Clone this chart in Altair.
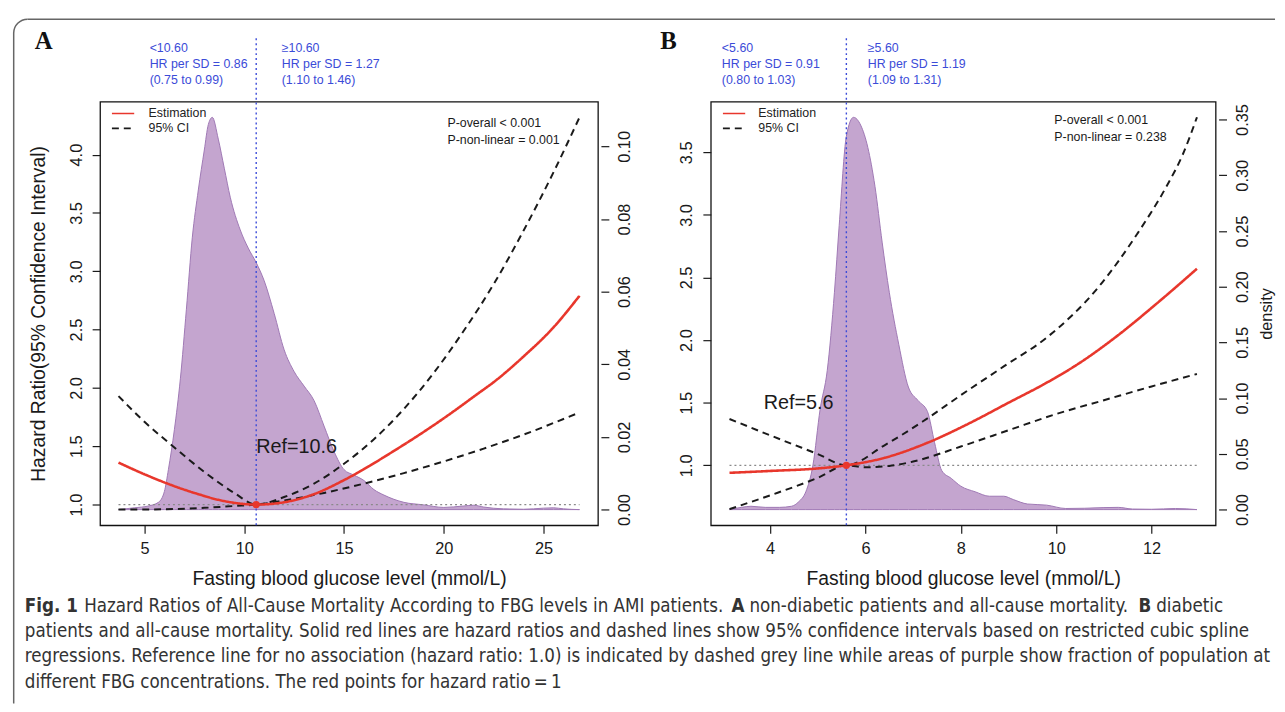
import altair as alt
import pandas as pd

# ---------------- Panel A (non-diabetic) ----------------
a_est_x = [3.7, 5.0, 6.0, 7.5, 9.0, 10.6, 12.0, 13.5, 15.0, 17.5, 20.0, 21.7, 22.5, 24.0, 25.5, 26.8]
a_est_y = [1.36, 1.26, 1.19, 1.10, 1.03, 1.00, 1.02, 1.09, 1.21, 1.46, 1.74, 1.95, 2.05, 2.27, 2.52, 2.79]
a_up_x = [3.7, 5.0, 6.5, 8.0, 9.5, 10.6, 12.0, 13.5, 15.0, 16.5, 18.0, 19.5, 21.0, 22.5, 24.0, 25.5, 26.8]
a_up_y = [1.93, 1.71, 1.49, 1.28, 1.10, 1.00, 1.065, 1.18, 1.35, 1.56, 1.82, 2.13, 2.49, 2.89, 3.35, 3.85, 4.32]
a_lo_x = [3.7, 5.0, 6.5, 8.0, 9.5, 10.6, 12.0, 14.0, 16.0, 18.0, 20.0, 22.0, 24.0, 26.8]
a_lo_y = [0.957, 0.958, 0.962, 0.972, 0.988, 1.00, 1.035, 1.10, 1.18, 1.27, 1.37, 1.48, 1.60, 1.79]
a_den_x = [3.7, 4.5, 5.2, 5.7, 6.0, 6.2, 6.5, 6.8, 7.1, 7.4, 7.7, 8.0, 8.2, 8.4, 8.7, 9.0, 9.3, 9.8,
           10.2, 10.6, 11.0, 11.5, 12.0, 12.5, 13.0, 13.5, 14.0, 14.5, 15.0, 15.5, 16.0, 16.5, 17.0,
           18.0, 19.0, 20.0, 21.0, 21.5, 22.0, 23.0, 24.0, 25.0, 25.5, 26.0, 26.8]
a_den_y = [0.0, 0.0005, 0.001, 0.002, 0.005, 0.011, 0.022, 0.036, 0.055, 0.075, 0.088, 0.099, 0.106,
           0.108, 0.102, 0.094, 0.086, 0.077, 0.072, 0.068, 0.063, 0.054, 0.044, 0.038, 0.034, 0.030,
           0.023, 0.016, 0.011, 0.0095, 0.008, 0.0055, 0.004, 0.002, 0.0013, 0.0006, 0.001, 0.0012,
           0.0007, 0.0002, 0.0001, 0.0004, 0.0005, 0.0002, 0.0]
a_ref = 10.6
a_xticks = [5, 10, 15, 20, 25]
a_hrticks = [1.0, 1.5, 2.0, 2.5, 3.0, 3.5, 4.0]
a_dticks = [0.0, 0.02, 0.04, 0.06, 0.08, 0.10]

# ---------------- Panel B (diabetic) ----------------
b_est_x = [3.15, 4.0, 5.0, 5.6, 6.4, 7.3, 8.2, 9.0, 9.8, 10.5, 11.3, 12.1, 12.95]
b_est_y = [0.94, 0.955, 0.975, 1.0, 1.06, 1.18, 1.34, 1.50, 1.66, 1.82, 2.04, 2.29, 2.57]
b_up_x = [3.15, 4.0, 5.0, 5.6, 6.4, 7.2, 8.0, 8.9, 9.8, 10.9, 11.7, 12.3, 12.65, 12.95]
b_up_y = [1.37, 1.24, 1.09, 1.00, 1.16, 1.35, 1.56, 1.79, 2.02, 2.43, 2.85, 3.22, 3.48, 3.78]
b_lo_x = [3.15, 4.0, 5.0, 5.6, 6.0, 6.5, 7.0, 8.0, 9.0, 10.0, 11.0, 12.0, 12.95]
b_lo_y = [0.65, 0.76, 0.90, 1.00, 0.985, 0.995, 1.03, 1.15, 1.28, 1.41, 1.52, 1.63, 1.73]
b_den_x = [3.15, 3.4, 3.6, 3.9, 4.2, 4.45, 4.6, 4.75, 4.9, 5.05, 5.2, 5.35, 5.45, 5.6, 5.75, 5.9,
           6.05, 6.2, 6.35, 6.5, 6.7, 6.9, 7.1, 7.3, 7.45, 7.6, 7.8, 8.0, 8.3, 8.6, 8.9, 9.1, 9.4,
           9.8, 10.2, 10.6, 11.0, 11.3, 11.6, 12.0, 12.5, 12.95]
b_den_y = [0.0, 0.002, 0.003, 0.002, 0.002, 0.003, 0.007, 0.016, 0.040, 0.090, 0.125, 0.195, 0.255,
           0.335, 0.352, 0.345, 0.325, 0.29, 0.24, 0.195, 0.148, 0.11, 0.098, 0.088, 0.06, 0.035,
           0.028, 0.021, 0.016, 0.012, 0.012, 0.009, 0.005, 0.004, 0.001, 0.0012, 0.0018, 0.002,
           0.0005, 0.0003, 0.001, 0.0]
b_ref = 5.6
b_xticks = [4, 6, 8, 10, 12]
b_hrticks = [1.0, 1.5, 2.0, 2.5, 3.0, 3.5]
b_dticks = [0.0, 0.05, 0.10, 0.15, 0.20, 0.25, 0.30, 0.35]

series_names = ["Estimation", "95% CI"]
x_title = "Fasting blood glucose level (mmol/L)"
hr_title = "Hazard Ratio(95% Confidence Interval)"

cap_bold_text = ["Fig. 1", "A", "B"]
cap_reg_text = [
    "Hazard Ratios of All-Cause Mortality According to FBG levels in AMI patients.",
    "non-diabetic patients and all-cause mortality.",
    "diabetic",
    "patients and all-cause mortality. Solid red lines are hazard ratios and dashed lines show 95% confidence intervals based on restricted cubic spline",
    "regressions. Reference line for no association (hazard ratio: 1.0) is indicated by dashed grey line while areas of purple show fraction of population at",
    "different FBG concentrations. The red points for hazard ratio\u2009=\u20091",
]

FONT = "Liberation Sans"
SERIF = "Liberation Serif"
CAPFONT = "DejaVu Sans Condensed, Liberation Sans Narrow, Liberation Sans"
RED = "#E8372C"
INK = "#1a1a1a"
BLUE = "#3B4BD8"
PURPLE = "#C4A5CF"
PURPLE_EDGE = "#9F78B4"
FRAME = "#666666"
H = 428


def one(**kw):
    return pd.DataFrame([kw])


def panel(P):
    W = P["w"]
    xs = alt.Scale(domain=P["xdom"], nice=False, zero=False)
    hs = alt.Scale(domain=P["hrdom"], nice=False, zero=False)
    ds = alt.Scale(domain=P["ddom"], nice=False, zero=False)
    x_axis = alt.Axis(values=P["xticks"], title=x_title, grid=False, domain=False,
                      tickSize=8, tickWidth=1.2, tickColor=INK, labelFont=FONT,
                      labelFontSize=16.5, labelColor=INK, labelPadding=8,
                      titleFont=FONT, titleFontSize=19.5, titleFontWeight="normal",
                      titleColor=INK, titlePadding=12)
    hr_axis = alt.Axis(values=P["hrticks"], format=".1f", orient="left",
                       title=P["hr_title"] if P["hr_title"] else None,
                       grid=False, domain=False, tickSize=8, tickWidth=1.2, tickColor=INK,
                       labelFont=FONT, labelFontSize=16.5, labelColor=INK, labelAngle=270,
                       labelAlign="center", labelBaseline="bottom", labelPadding=8,
                       titleFont=FONT, titleFontSize=19.5, titleFontWeight="normal",
                       titleColor=INK, titlePadding=20)
    d_axis = alt.Axis(values=P["dticks"], format=".2f", orient="right",
                      title=P["d_title"] if P["d_title"] else None,
                      grid=False, domain=False, offset=3, tickSize=8, tickWidth=1.2,
                      tickColor=INK, labelFont=FONT, labelFontSize=16.5, labelColor=INK,
                      labelAngle=270, labelAlign="center", labelBaseline="top",
                      labelPadding=8, titleFont=FONT, titleFontSize=16.5,
                      titleFontWeight="normal", titleColor=INK, titleAngle=270,
                      titleBaseline="top", titlePadding=8)

    X = alt.X("x:Q", scale=xs, axis=x_axis)
    YH = alt.Y("hr:Q", scale=hs, axis=hr_axis)

    den = pd.DataFrame({"x": P["den_x"], "d": P["den_y"]})
    dens = alt.Chart(den).mark_area(color=PURPLE, stroke=PURPLE_EDGE, strokeWidth=1,
                                    interpolate="monotone").encode(
        x=X, y=alt.Y("d:Q", scale=ds, axis=d_axis), y2=alt.datum(0))

    ci = pd.concat([
        pd.DataFrame({"x": P["up_x"], "hr": P["up_y"], "series": "95% CI", "part": "upper"}),
        pd.DataFrame({"x": P["lo_x"], "hr": P["lo_y"], "series": "95% CI", "part": "lower"}),
    ])
    est = pd.DataFrame({"x": P["est_x"], "hr": P["est_y"], "series": "Estimation", "part": "est"})

    leg = alt.Legend(title=None, orient="none", legendX=P["leg_x"], legendY=3.5,
                     symbolType="M-1.5,0H1.5", labelFont=FONT,
                     labelFontSize=12.5, labelColor="#222", symbolSize=225,
                     symbolStrokeWidth=1.6, rowPadding=0, padding=0,
                     labelOffset=P["leg_lab"])
    col = alt.Color("series:N", scale=alt.Scale(domain=series_names, range=[RED, INK]), legend=leg)
    dash = alt.StrokeDash("series:N", scale=alt.Scale(domain=series_names, range=[[1, 0], [7, 5]]),
                          legend=leg)

    hline = alt.Chart(one(x=P["est_x"][0], x2=P["est_x"][-1], hr=1.0)).mark_rule(
        color="#8a8a8a", strokeDash=[2, 3], strokeWidth=1.3).encode(x=X, x2="x2:Q", y=YH)
    ci_l = alt.Chart(ci).mark_line(strokeWidth=2, interpolate="monotone").encode(
        x=X, y=YH, color=col, strokeDash=dash, detail="part:N")
    est_l = alt.Chart(est).mark_line(strokeWidth=2.6, interpolate="monotone").encode(
        x=X, y=YH, color=col, strokeDash=dash)
    vrule = alt.Chart(one(x=P["ref"])).mark_rule(color=BLUE, strokeDash=[2, 3],
                                                  strokeWidth=1.4).encode(
        x=X, y=alt.value(-64), y2=alt.value(H))
    pt = alt.Chart(one(x=P["ref"], hr=1.0)).mark_point(filled=True, color=RED, size=55,
                                                       opacity=1).encode(x=X, y=YH)
    reft = alt.Chart(one(x=P["ref_tx"], hr=P["ref_ty"], t=P["ref_text"])).mark_text(
        font=FONT, fontSize=20, color=INK, align=P["ref_align"], baseline="middle").encode(
        x=X, y=YH, text="t:N")
    pv = alt.Chart(pd.DataFrame({"x": [P["p_x"]] * 2, "hr": P["p_y"], "t": P["p_text"]})).mark_text(
        font=FONT, fontSize=12.5, color=INK, align="left", baseline="middle").encode(
        x=X, y=YH, text="t:N")
    blue_l = alt.Chart(one(x=P["bl_x"], t=P["bl_text"])).mark_text(
        font=FONT, fontSize=12.5, color=BLUE, align="left", baseline="top", lineBreak="\n",
        lineHeight=16).encode(x=X, y=alt.value(-60), text="t:N")
    blue_r = alt.Chart(one(x=P["br_x"], t=P["br_text"])).mark_text(
        font=FONT, fontSize=12.5, color=BLUE, align="left", baseline="top", lineBreak="\n",
        lineHeight=16).encode(x=X, y=alt.value(-60), text="t:N")
    letter = alt.Chart(one(t=P["letter"])).mark_text(
        font=SERIF, fontSize=25, fontWeight="bold", color="#111", align="left",
        baseline="alphabetic").encode(x=alt.value(P["letter_dx"]), y=alt.value(-53), text="t:N")

    layers = [hline, ci_l, est_l, vrule, pt, reft, pv, blue_l, blue_r, letter]

    if P.get("caption"):
        # outer figure frame: top edge, left edge and a rounded top-left corner
        top_edge = alt.Chart(one(a=0)).mark_rule(color=FRAME, strokeWidth=1.5).encode(
            x=alt.value(-73.25), x2=alt.value(1187), y=alt.value(-83.25))
        left_edge = alt.Chart(one(a=0)).mark_rule(color=FRAME, strokeWidth=1.5).encode(
            x=alt.value(-87.25), y=alt.value(-69.25), y2=alt.value(608))
        corner = alt.Chart(one(a=0)).mark_arc(radius=14, radius2=14, stroke=FRAME,
                                              strokeWidth=1.5, fillOpacity=0).encode(
            theta=alt.value(4.712389), theta2=alt.value(6.283185),
            x=alt.value(-73.25), y=alt.value(-69.25))
        cap_bold = pd.DataFrame({"t": cap_bold_text, "px": [-76, 638, 1049]})
        cb = alt.Chart(cap_bold).mark_text(font=CAPFONT, fontSize=18.8, fontWeight="bold",
                                           color="#333", align="left", baseline="middle").encode(
            x=alt.X("px:Q", scale=None), y=alt.value(510), text="t:N")
        cap_reg = pd.DataFrame({
            "t": cap_reg_text,
            "px": [-16, 656, 1067, -76, -76, -76],
            "py": [510, 510, 510, 535, 560, 586]})
        cr = alt.Chart(cap_reg).mark_text(font=CAPFONT, fontSize=18.8, color="#333",
                                          align="left", baseline="middle").encode(
            x=alt.X("px:Q", scale=None), y=alt.Y("py:Q", scale=None), text="t:N")
        layers = [top_edge, left_edge, corner] + layers + [cb, cr]

    inner = alt.layer(*layers)
    return alt.layer(dens, inner).resolve_scale(y="independent").properties(width=W, height=H)


PA = dict(w=503, est_x=a_est_x, est_y=a_est_y, up_x=a_up_x, up_y=a_up_y, lo_x=a_lo_x, lo_y=a_lo_y,
          den_x=a_den_x, den_y=a_den_y, ref=a_ref, xdom=[2.776, 27.724], hrdom=[0.8225, 4.4545],
          ddom=[-0.00432, 0.11232], xticks=a_xticks, hrticks=a_hrticks, dticks=a_dticks,
          hr_title=hr_title, d_title=None, ref_tx=10.6, ref_ty=1.49, ref_text="Ref=10.6",
          ref_align="left", p_x=20.18, p_y=[4.268, 4.124],
          p_text=["P-overall < 0.001", "P-non-linear = 0.001"],
          bl_x=5.26, bl_text="<10.60\nHR per SD = 0.86\n(0.75 to 0.99)",
          br_x=11.88, br_text="\u226510.60\nHR per SD = 1.27\n(1.10 to 1.46)",
          letter="A", letter_dx=-66, leg_x=14.75, leg_lab=17.25, caption=True)
PB = dict(w=510, est_x=b_est_x, est_y=b_est_y, up_x=b_up_x, up_y=b_up_y, lo_x=b_lo_x, lo_y=b_lo_y,
          den_x=b_den_x, den_y=b_den_y, ref=b_ref, xdom=[2.758, 13.342], hrdom=[0.521, 3.905],
          ddom=[-0.01408, 0.36608], xticks=b_xticks, hrticks=b_hrticks, dticks=b_dticks,
          hr_title=None, d_title="density", ref_tx=4.6, ref_ty=1.496, ref_text="Ref=5.6",
          ref_align="center", p_x=9.96, p_y=[3.755, 3.62],
          p_text=["P-overall < 0.001", "P-non-linear = 0.238"],
          bl_x=2.99, bl_text="<5.60\nHR per SD = 0.91\n(0.80 to 1.03)",
          br_x=6.05, br_text="\u22655.60\nHR per SD = 1.19\n(1.09 to 1.31)",
          letter="B", letter_dx=-51, leg_x=15.0, leg_lab=16.0, caption=False)

chart = alt.hconcat(panel(PA), panel(PB), spacing=114, bounds="flush").resolve_scale(
    x="independent", y="independent", color="independent", strokeDash="independent"
).resolve_legend(color="independent", strokeDash="independent").properties(
    padding={"left": 2, "top": 4, "right": 0, "bottom": 0}, background="white"
).configure_view(stroke="#111", strokeWidth=1.3)

chart.save("out.html", embed_options={"renderer": "svg", "actions": False})
